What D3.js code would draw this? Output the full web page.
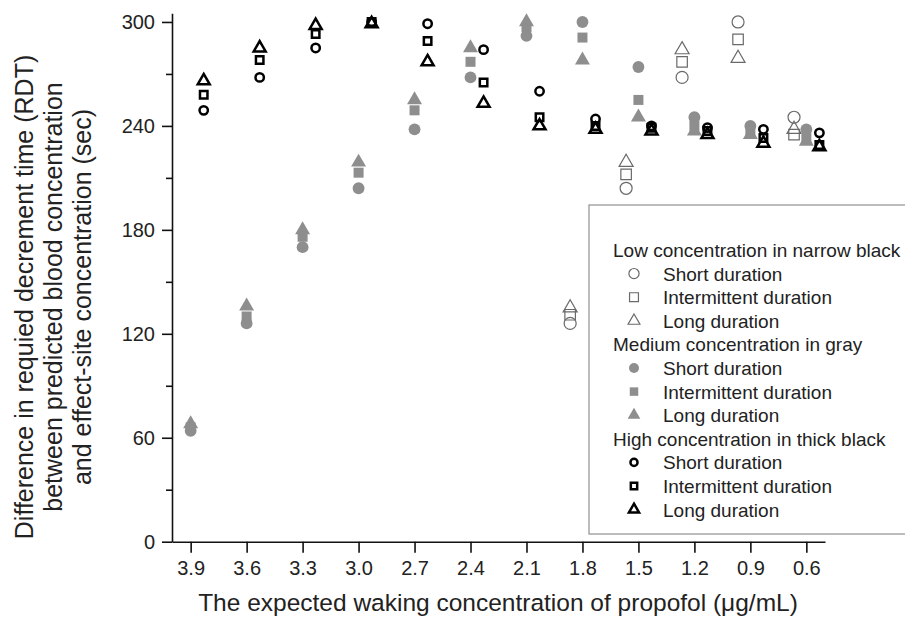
<!DOCTYPE html>
<html>
<head>
<meta charset="utf-8">
<script src="https://cdn.jsdelivr.net/npm/d3@7"></script>
<style>
  body { margin: 0; background: #fff; }
  svg { display: block; font-family: "Liberation Sans", Arial, sans-serif; }
  .axis text { font-size: 20px; fill: #222; }
  .axis path, .axis line { stroke: #111; stroke-width: 1.6; }
</style>
</head>
<body>
<div></div>
<script>
var width = 905;
var height = 620;

// waking concentrations on the x axis (ug/mL)
var concentrations = [3.9, 3.6, 3.3, 3.0, 2.7, 2.4, 2.1, 1.8, 1.5, 1.2, 0.9, 0.6];
// low concentration only measured from 1.8 down
var lowConcentrations = [1.8, 1.5, 1.2, 0.9, 0.6];

// RDT values (sec)
var lowShort = [126, 204, 268, 300, 245];
var lowIntermittent = [131, 212, 277, 290, 235];
var lowLong = [135, 219, 284, 279, 238];

var mediumShort = [64, 126, 170, 204, 238, 268, 292, 300, 274, 245, 240, 238];
var mediumIntermittent = [66, 130, 176, 213, 249, 277, 297, 291, 255, 240, 237, 233];
var mediumLong = [68, 136, 180, 219, 255, 285, 300, 278, 245, 237, 235, 231];

var highShort = [249, 268, 285, 300, 299, 284, 260, 244, 240, 239, 238, 236];
var highIntermittent = [258, 278, 293, 300, 289, 265, 245, 240, 239, 237, 233, 229];
var highLong = [266, 285, 298, 299, 277, 253, 240, 238, 237, 235, 230, 228];

var yMajorTicks = [0, 60, 120, 180, 240, 300];
var yMinorTicks = [30, 90, 150, 210, 270];

var durations = ['Short duration', 'Intermittent duration', 'Long duration'];
var groupTitles = ['Low concentration in narrow black', 'Medium concentration in gray', 'High concentration in thick black'];

var svg = d3.select('div')
    .append('svg').attr('width', width).attr('height', height);

var x = d3.scaleLinear().domain([4.0, 0.5]).range([172, 825]);
var y = d3.scaleLinear().domain([0, 305]).range([541.7, 13.3]);

// look of each concentration group (shift is in x units; axis runs high -> low)
var styles = [
    { name: 'low', shift: 0.066, fill: 'none', stroke: '#6a6a6a', sw: 1.2, sizes: [113, 110, 85] },
    { name: 'medium', shift: 0, fill: '#8e8e8e', stroke: 'none', sw: 0, sizes: [110, 100, 97] },
    { name: 'high', shift: -0.07, fill: 'none', stroke: '#000', sw: 2.5, sizes: [55, 56, 62] }
];
var shapes = [d3.symbolCircle, d3.symbolSquare, d3.symbolTriangle];

var series = [
    { group: 0, xs: lowConcentrations, values: [lowShort, lowIntermittent, lowLong] },
    { group: 1, xs: concentrations, values: [mediumShort, mediumIntermittent, mediumLong] },
    { group: 2, xs: concentrations, values: [highShort, highIntermittent, highLong] }
];

// axes
var xAxis = d3.axisBottom(x)
    .tickValues(concentrations)
    .tickFormat(d3.format('.1f'))
    .tickSize(11).tickSizeOuter(0).tickPadding(8);

svg.append('g')
    .attr('class', 'axis')
    .attr('transform', 'translate(0,' + y(0) + ')')
    .call(xAxis);

svg.append('g')
    .attr('class', 'axis')
    .attr('transform', 'translate(' + x(4.0) + ',0)')
    .call(d3.axisLeft(y).tickValues(yMajorTicks).tickSize(10).tickSizeOuter(0).tickPadding(7));

svg.append('g')
    .attr('class', 'axis')
    .attr('transform', 'translate(' + x(4.0) + ',0)')
    .call(d3.axisLeft(y).tickValues(yMinorTicks).tickSize(6).tickFormat(''))
    .select('.domain').remove();

// points: thin first, then gray, then thick on top
series.forEach(function (s) {
    var st = styles[s.group];
    s.values.forEach(function (vals, k) {
        var sym = d3.symbol().type(shapes[k]).size(st.sizes[k]);
        svg.append('g')
            .selectAll('path')
            .data(vals.map(function (v, i) { return { c: s.xs[i], v: v }; }))
            .enter()
            .append('path')
            .attr('d', sym)
            .attr('transform', function (d) {
                return 'translate(' + x(d.c + st.shift) + ',' + y(d.v) + ')';
            })
            .attr('fill', st.fill)
            .attr('stroke', st.stroke)
            .attr('stroke-width', st.sw)
            .attr('stroke-linejoin', 'miter');
    });
});

// axis titles
svg.append('text')
    .attr('x', 498).attr('y', 611)
    .attr('text-anchor', 'middle')
    .style('font-size', '24.5px').style('fill', '#222')
    .text('The expected waking concentration of propofol (\u03bcg/mL)');

var yTitle = ['Difference in requied decrement time (RDT)',
    'between predicted blood concentration',
    'and effect-site concentration (sec)'];
svg.append('g')
    .attr('transform', 'translate(0,297) rotate(-90)')
    .selectAll('text')
    .data(yTitle)
    .enter()
    .append('text')
    .attr('x', 0)
    .attr('y', function (d, i) { return 33 + i * 29; })
    .attr('text-anchor', 'middle')
    .style('font-size', '25px').style('fill', '#222')
    .text(function (d) { return d; });

// legend
var legend = svg.append('g');
legend.append('rect')
    .attr('x', 589).attr('y', 205)
    .attr('width', 330).attr('height', 329)
    .attr('fill', '#fff').attr('stroke', '#999').attr('stroke-width', 1.3);

var rowH = 23.6;
var row = 0;
groupTitles.forEach(function (title, g) {
    var st = styles[g];
    legend.append('text')
        .attr('x', 613).attr('y', 250 + row * rowH + 7)
        .style('font-size', '19px').style('fill', '#222')
        .text(title);
    row++;
    durations.forEach(function (label, k) {
        var cy = 250 + row * rowH;
        legend.append('path')
            .attr('d', d3.symbol().type(shapes[k]).size(st.sizes[k] * 0.72))
            .attr('transform', 'translate(634,' + cy + ')')
            .attr('fill', st.fill)
            .attr('stroke', st.stroke)
            .attr('stroke-width', st.sw);
        legend.append('text')
            .attr('x', 663).attr('y', cy + 7)
            .style('font-size', '19px').style('fill', '#222')
            .text(label);
        row++;
    });
});
</script>
</body>
</html>
